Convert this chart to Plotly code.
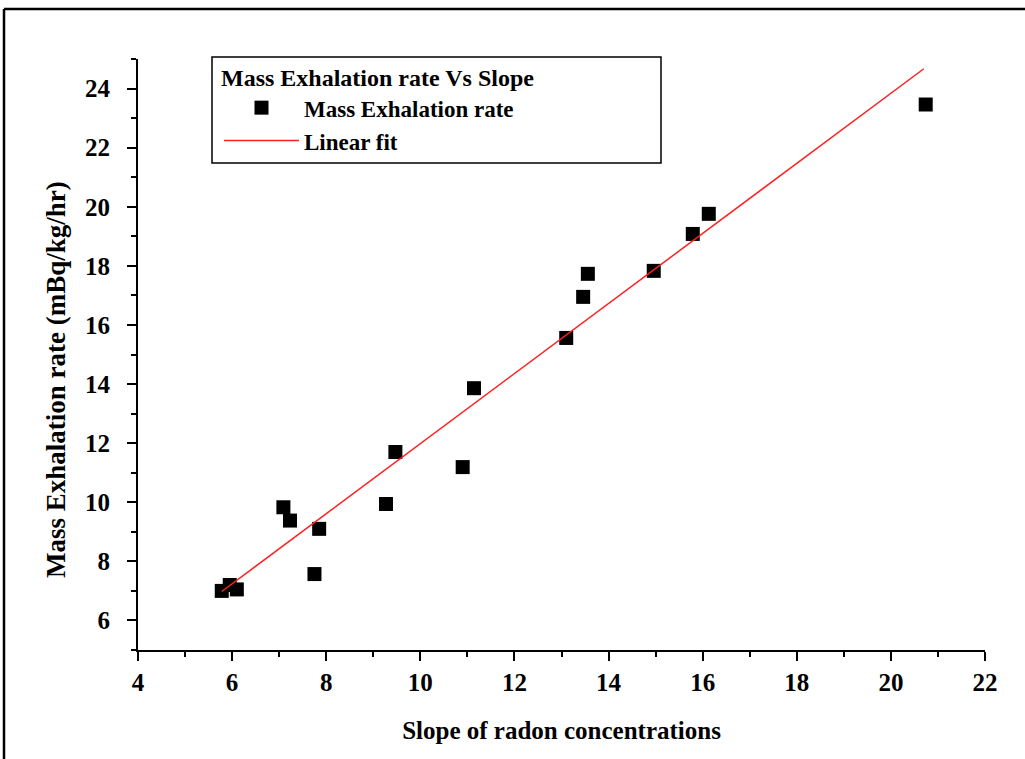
import plotly.graph_objects as go

# Data
slope = [5.78, 5.95, 6.10, 7.09, 7.23, 7.85, 7.75, 9.27, 9.47, 10.90, 11.14,
         13.10, 13.46, 13.56, 14.96, 15.79, 16.13, 20.74]
exhalation = [7.00, 7.20, 7.05, 9.83, 9.38, 9.10, 7.57, 9.94, 11.70, 11.19, 13.86,
              15.56, 16.95, 17.73, 17.83, 19.08, 19.76, 23.46]

fit_x = [5.78, 20.70]
fit_y = [6.98, 24.67]

x_ticks = [4, 6, 8, 10, 12, 14, 16, 18, 20, 22]
y_ticks = [6, 8, 10, 12, 14, 16, 18, 20, 22, 24]

FONT = "Liberation Serif"

fig = go.Figure()
fig.add_trace(go.Scatter(
    x=slope, y=exhalation, mode="markers", name="<b>Mass Exhalation rate</b>",
    marker=dict(symbol="square", size=14, color="black"),
))
fig.add_trace(go.Scatter(
    x=fit_x, y=fit_y, mode="lines", name="<b>Linear fit</b>",
    line=dict(color="#ff2020", width=1.5),
))

W, H = 1025, 759
L, R, T, B = 138, 40, 59, 109
pw, ph = W - L - R, H - T - B

def px_x(p):
    return (p - L) / pw

def px_y(p):
    return (H - B - p) / ph

fig.update_layout(
    width=W, height=H,
    margin=dict(l=L, r=R, t=T, b=B),
    paper_bgcolor="white", plot_bgcolor="white",
    font=dict(family=FONT, color="black", size=22),
    showlegend=True,
    legend=dict(
        x=px_x(219), y=px_y(55), xanchor="left", yanchor="top",
        borderwidth=0, bgcolor="rgba(0,0,0,0)",
        title=dict(text="<b>Mass Exhalation rate Vs Slope</b>",
                   font=dict(family=FONT, size=24, color="black")),
        font=dict(family=FONT, size=23, color="black"),
        itemwidth=75, tracegroupgap=0,
    ),
    xaxis=dict(
        range=[4, 22], tickmode="array", tickvals=x_ticks,
        ticktext=[f"<b>{v}</b>" for v in x_ticks],
        showgrid=False, zeroline=False, showline=True, linecolor="black", linewidth=2,
        ticks="outside", ticklen=9, tickwidth=2, tickcolor="black",
        minor=dict(dtick=1, tick0=4, ticks="outside", ticklen=5, tickwidth=1.5, tickcolor="black", showgrid=False),
        tickfont=dict(family=FONT, size=25), ticklabelstandoff=0,
        title=dict(text="<b>Slope of radon concentrations</b>", font=dict(family=FONT, size=25), standoff=26),
    ),
    yaxis=dict(
        range=[5, 25], tickmode="array", tickvals=y_ticks,
        ticktext=[f"<b>{v}</b>" for v in y_ticks],
        showgrid=False, zeroline=False, showline=True, linecolor="black", linewidth=2,
        ticks="outside", ticklen=9, tickwidth=2, tickcolor="black",
        minor=dict(dtick=1, tick0=5, ticks="outside", ticklen=5, tickwidth=1.5, tickcolor="black", showgrid=False),
        tickfont=dict(family=FONT, size=25), ticklabelstandoff=12,
    ),
    annotations=[
        dict(text="<b>Mass Exhalation rate (mBq/kg/hr)</b>", textangle=-90,
             xref="paper", yref="paper", x=px_x(56), y=px_y(380),
             xanchor="center", yanchor="middle", showarrow=False,
             font=dict(family=FONT, size=27, color="black")),
    ],
    shapes=[
        dict(type="line", xref="paper", yref="paper",
             x0=px_x(4), x1=px_x(1100), y0=px_y(9), y1=px_y(9),
             line=dict(color="black", width=2.5)),
        dict(type="line", xref="paper", yref="paper",
             x0=px_x(4), x1=px_x(4), y0=px_y(9), y1=px_y(800),
             line=dict(color="black", width=2.5)),
        dict(type="rect", xref="paper", yref="paper",
             x0=px_x(212), x1=px_x(661), y0=px_y(57), y1=px_y(163),
             line=dict(color="black", width=1.5)),
    ],
)

fig.write_html("out.html")
